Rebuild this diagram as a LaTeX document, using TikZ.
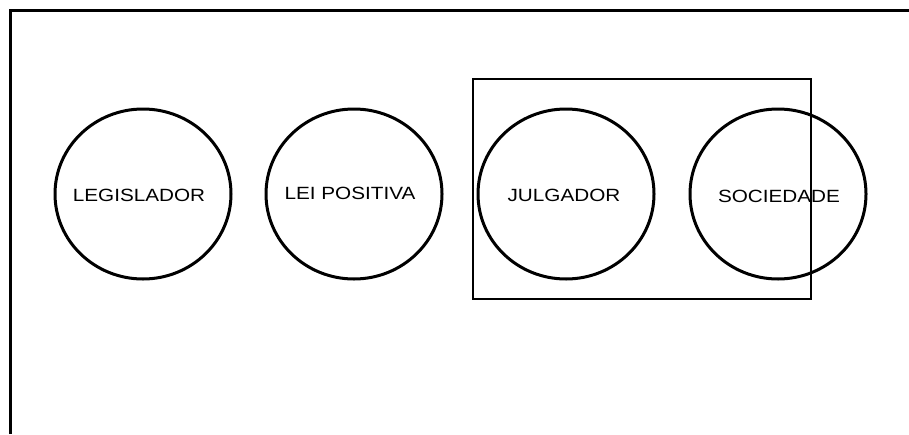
\documentclass[tikz,border=0pt]{standalone}
\usepackage{fontspec}
\setmainfont{Liberation Sans}
\usetikzlibrary{shapes.geometric}
\begin{document}
\begin{tikzpicture}[x=1pt,y=-1pt,
  circ/.style={draw, line width=3pt, ellipse, minimum width=176pt, minimum height=170pt, inner sep=0pt},
  lbl/.style={font=\fontsize{17.7}{20}\selectfont, inner sep=0pt}]
\useasboundingbox (0,0) rectangle (909,434);
\fill[white] (0,0) rectangle (909,434);
% outer frame (top and left visible)
\coordinate (ftl) at (10,10);
\coordinate (ftr) at (909,10);
\coordinate (fbl) at (10,434);
\draw[line width=3pt] (fbl) -- (ftl) -- (ftr);
% rectangle
\node[draw, line width=1.5pt, rectangle, minimum width=338pt, minimum height=220pt, inner sep=0pt] (box) at (642,189) {};
% circles
\node[circ] (c1) at (143,194) {};
\node[circ] (c2) at (354,194) {};
\node[circ] (c3) at (566,194) {};
\node[circ] (c4) at (778,194) {};
% labels
\node[lbl] (t1) at (139,195.5) {\scalebox{1.17}[1]{LEGISLADOR}};
\node[lbl] (t2) at (350,193.5) {\scalebox{1.17}[1]{LEI POSITIVA}};
\node[lbl] (t3) at (564,195) {\scalebox{1.17}[1]{JULGADOR}};
\node[lbl] (t4) at (779,196.5) {\scalebox{1.17}[1]{SOCIEDADE}};
\end{tikzpicture}
\end{document}
